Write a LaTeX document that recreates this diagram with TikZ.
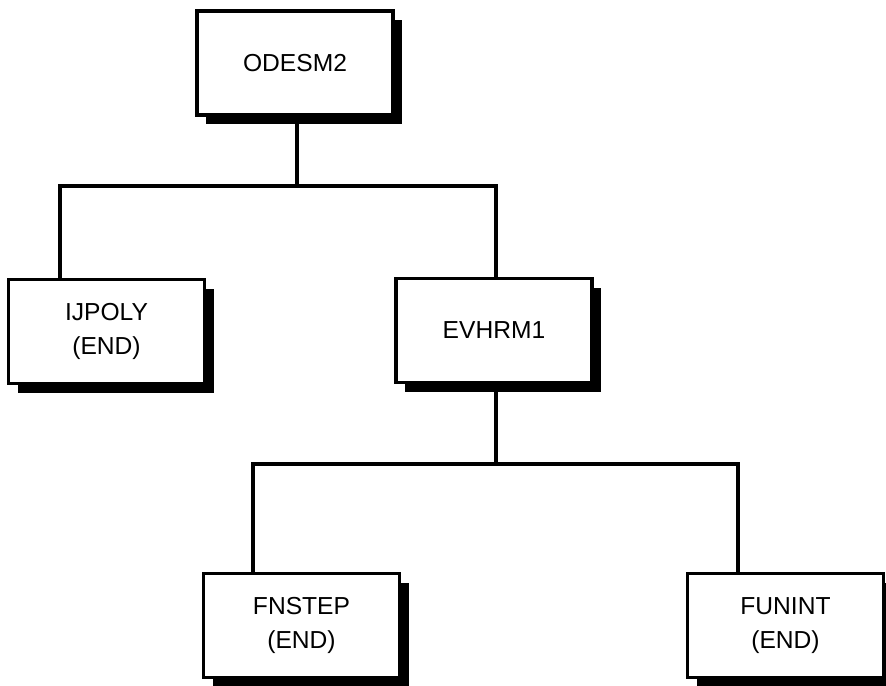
\documentclass[tikz,border=0pt]{standalone}
\usepackage{fontspec}
\setmainfont{Liberation Sans}
\usetikzlibrary{shadows}

\tikzset{
  prog/.style={draw, fill=white, line width=1.9pt, align=center,
    minimum width=3.92cm, minimum height=2.08cm, inner sep=0pt,
    font=\fontsize{14}{19}\selectfont,
    drop shadow={shadow xshift=0.18cm, shadow yshift=-0.18cm, opacity=1, fill=black}},
  link/.style={line width=1.9pt}
}

\begin{document}
\begin{tikzpicture}
\useasboundingbox (0,0) rectangle (17.72,-13.7);
% main program
\node[prog] (odesm2) at (5.9,-1.26) {ODESM2};
% first level
\node[prog] (ijpoly) at (2.13,-6.63) {IJPOLY\\(END)};
\node[prog] (evhrm1) at (9.88,-6.61) {EVHRM1};
% second level
\node[prog] (fnstep) at (6.03,-12.51) {FNSTEP\\(END)};
\node[prog] (funint) at (15.71,-12.51) {FUNINT\\(END)};

% bus lines
\coordinate (bus1) at (5.94,-3.72);
\coordinate (bus2) at (9.92,-9.28);

% calls from ODESM2
\draw[link] (odesm2.south -| bus1) -- (bus1);
\draw[link] ([xshift=1.06cm]ijpoly.north west) |- (bus1) -| (evhrm1.north -| bus2);

% calls from EVHRM1
\draw[link] (evhrm1.south -| bus2) -- (bus2);
\draw[link] ([xshift=1.02cm]fnstep.north west) |- (bus2) -| ([xshift=1.04cm]funint.north west);

\end{tikzpicture}
\end{document}
